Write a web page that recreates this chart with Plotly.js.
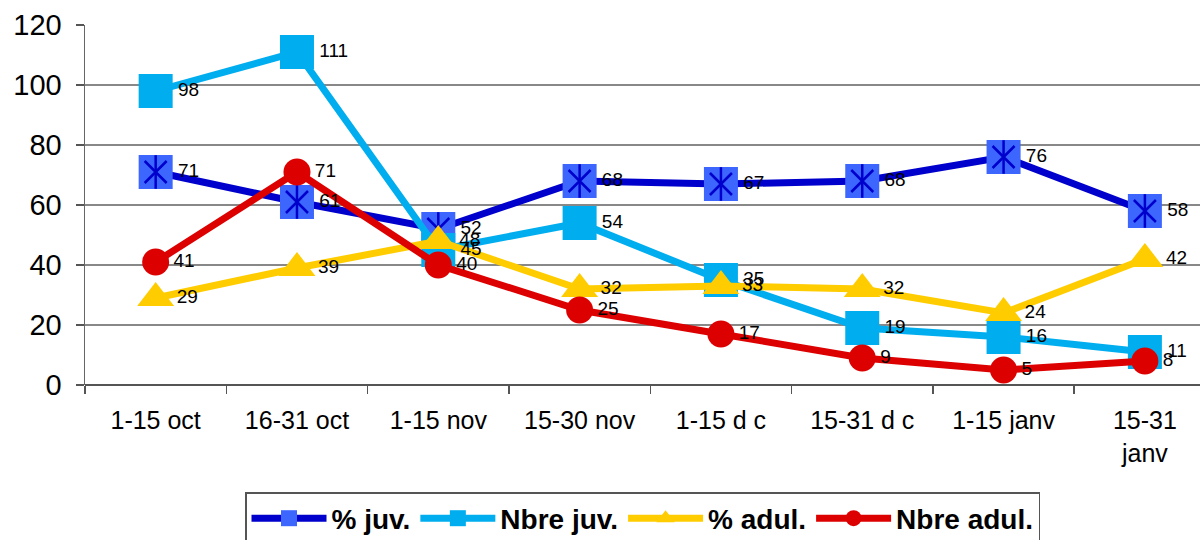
<!DOCTYPE html>
<html>
<head>
<meta charset="utf-8">
<script src="https://cdn.plot.ly/plotly-3.0.1.min.js"></script>
<style>html,body{margin:0;padding:0;background:#fff;}#chart{width:1200px;height:540px;}</style>
</head>
<body>
<div id="chart"></div>
<script>
const categories = ["1-15 oct", "16-31 oct", "1-15 nov", "15-30 nov", "1-15 d c", "15-31 d c", "1-15 janv", "15-31<br>janv"];
const pctJuv = [71, 61, 52, 68, 67, 68, 76, 58];
const nbreJuv = [98, 111, 45, 54, 35, 19, 16, 11];
const pctAdul = [29, 39, 48, 32, 33, 32, 24, 42];
const nbreAdul = [41, 71, 40, 25, 17, 9, 5, 8];
const seriesNames = ["% juv.", "Nbre juv.", "% adul.", "Nbre adul."];

const FONT = "Liberation Sans, Arial, sans-serif";
const labelFont = {family: FONT, size: 19, color: "#000"};

function series(name, y, lineColor, marker) {
  return {
    type: "scatter", mode: "lines+markers", name: name,
    x: categories, y: y,
    line: {color: lineColor, width: 7},
    marker: marker, cliponaxis: false, hoverinfo: "skip"
  };
}
function labels(y, size) {
  return {
    type: "scatter", mode: "markers+text", showlegend: false, hoverinfo: "skip",
    x: categories, y: y, text: y.map(String), textposition: "middle right",
    textfont: labelFont, cliponaxis: false,
    marker: {size: size, color: "rgba(0,0,0,0)", line: {width: 0}}
  };
}

const traces = [
  series(seriesNames[0], pctJuv, "#0000CC",
    {symbol: "square", size: 34, color: "#3D66FF", line: {width: 0}}),
  {type: "scatter", mode: "markers", x: categories, y: pctJuv, showlegend: false, hoverinfo: "skip", cliponaxis: false,
   marker: {symbol: "x-thin-open", size: 22, color: "#0000CC", line: {color: "#0000CC", width: 2.5}}},
  {type: "scatter", mode: "markers", x: categories, y: pctJuv, showlegend: false, hoverinfo: "skip", cliponaxis: false,
   marker: {symbol: "line-ns-open", size: 24, color: "#0000CC", line: {color: "#0000CC", width: 2.5}}},
  series(seriesNames[1], nbreJuv, "#00AEEF",
    {symbol: "square", size: 34, color: "#00AEEF", line: {width: 0}}),
  series(seriesNames[2], pctAdul, "#FFCC00",
    {symbol: "triangle-up", size: 32, color: "#FFCC00", line: {width: 0}}),
  series(seriesNames[3], nbreAdul, "#DD0000",
    {symbol: "circle", size: 27, color: "#DD0000", line: {width: 0}}),
  labels(pctJuv, 34),
  labels(nbreJuv, 34),
  labels(pctAdul, 32),
  labels(nbreAdul, 27)
];

const layout = {
  width: 1200, height: 540,
  margin: {l: 85, r: 0, t: 25, b: 155, autoexpand: false},
  paper_bgcolor: "#fff", plot_bgcolor: "#fff",
  font: {family: FONT, color: "#000"},
  showlegend: true,
  legend: {
    orientation: "h", x: 0.5, xanchor: "center",
    yref: "container", y: 48 / 540, yanchor: "top",
    font: {family: FONT, size: 28, color: "#000", weight: "bold"},
    bordercolor: "#555", borderwidth: 1.5, bgcolor: "#fff",
    itemwidth: 75, traceorder: "normal"
  },
  xaxis: {
    type: "category", range: [-0.5, 7.39], automargin: false,
    showgrid: false, zeroline: false,
    showline: false,
    ticks: "outside", ticklen: 8, tickcolor: "#555", tickwidth: 1.5,
    tickson: "boundaries",
    tickfont: {family: FONT, size: 25, color: "#000"},
    ticklabelstandoff: 18, fixedrange: true
  },
  yaxis: {
    range: [0, 120], dtick: 20, tick0: 0, automargin: false,
    showgrid: true, gridcolor: "#888", gridwidth: 1.5,
    zeroline: true, zerolinecolor: "#555", zerolinewidth: 1.5,
    showline: true, linecolor: "#666", linewidth: 1.5,
    ticks: "outside", ticklen: 8, tickcolor: "#555", tickwidth: 1.5,
    tickfont: {family: FONT, size: 29, color: "#000"},
    ticklabelstandoff: 8, fixedrange: true
  }
};

Plotly.newPlot("chart", traces, layout, {displayModeBar: false, staticPlot: true});
</script>
</body>
</html>
